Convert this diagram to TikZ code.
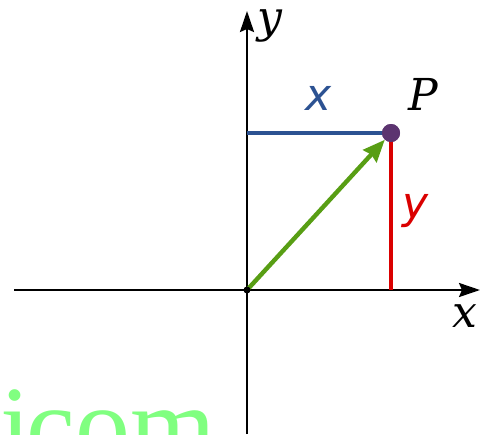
\documentclass[tikz,border=0pt]{standalone}
\usepackage{xcolor,tikz,fontspec}
\usetikzlibrary{arrows.meta,positioning}
\newfontfamily\axisfont{DejaVu Serif}
\newfontfamily\partfont{DejaVu Sans}
\newfontfamily\markfont{Liberation Serif}
\definecolor{xblue}{RGB}{44,82,146}
\definecolor{yred}{RGB}{218,0,0}
\definecolor{vgreen}{RGB}{88,158,20}
\definecolor{ppurple}{RGB}{92,52,112}
\definecolor{wgreen}{RGB}{128,255,128}
\tikzset{
  axis/.style={line width=2.3pt,-{Stealth[length=21pt,width=14pt,inset=3pt]}},
  dot/.style={circle,fill=black,inner sep=0pt,minimum size=7pt},
  pdot/.style={circle,fill=ppurple,inner sep=0pt,minimum size=18pt},
  lab/.style={anchor=base,inner sep=0pt,text height=1ex,font=\axisfont\itshape\fontsize{44}{48}\selectfont},
  part/.style={anchor=base,inner sep=0pt,text height=1ex,font=\partfont\itshape\fontsize{44}{48}\selectfont},
  leg/.style={line width=3.4pt},
  vec/.style={line width=4.4pt,draw=vgreen,-{Stealth[length=22pt,width=18pt,inset=2pt]}},
  wmark/.style={anchor=base west,inner sep=0pt,text=wgreen,font=\markfont\fontsize{110}{120}\selectfont}
}
\begin{document}
\begin{tikzpicture}[x=1pt,y=-1pt]
  \useasboundingbox (0,0) rectangle (486,434);
  \node[wmark] (wm) at (0,462) {i\kern-16pt.\kern-16pt com};
  % axes
  \coordinate (O) at (247,290);
  \coordinate (xl) at (14,290);
  \coordinate (xr) at (480,290);
  \coordinate (yb) at (247,434);
  \coordinate (yt) at (247,11);
  \draw[axis] (xl) -- (xr);
  \draw[axis] (yb) -- (yt);
  % point and its parts
  \node[pdot] (P) at (391,133) {};
  \coordinate (Px) at (247,133);
  \coordinate (Py) at (391,290);
  \draw[leg,xblue] (Px) -- (P.center);
  \draw[leg,yred] (Py) -- (P.center);
  \draw[vec] (O) -- (P);
  \node[dot] (Od) at (O) {};
  \node[pdot] at (P) {};
  % labels
  \node[lab] (ylab) at (270,32) {y};
  \node[lab] (xlab) at (465,327) {x};
  \node[lab] (Plab) at (423,110) {P};
  \node[part,text=xblue] (xpart) at (319,110) {x};
  \node[part,text=yred] (ypart) at (416,218) {y};
\end{tikzpicture}
\end{document}
